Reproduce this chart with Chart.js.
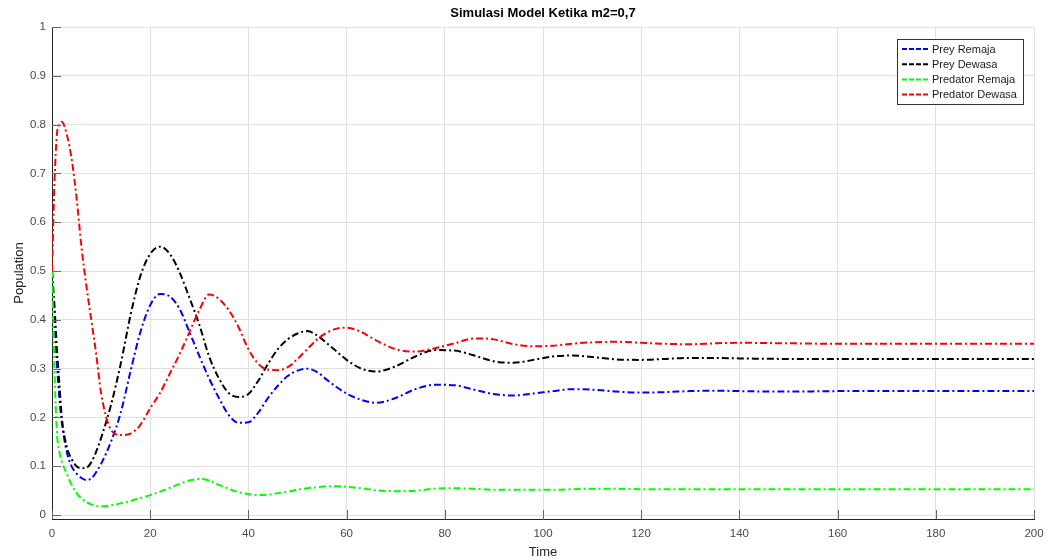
<!DOCTYPE html>
<html>
<head>
<meta charset="utf-8">
<script src="https://cdn.jsdelivr.net/npm/chart.js@4"></script>
<style>
  body { margin: 0; background: #fff; }
  canvas { display: block; }
</style>
</head>
<body>
<canvas id="simChart" width="1049" height="560"></canvas>
<script>
const time = [0, 0.5, 1, 1.5, 2, 3, 4, 5, 6, 7, 8, 9, 10, 12, 14, 16, 18, 20, 22, 24, 26, 28, 30, 32, 34, 36, 38, 40, 42, 44, 46, 48, 50, 52, 54, 56, 58, 60, 63, 66, 70, 74, 78, 82, 86, 90, 94, 98, 102, 106, 110, 115, 120, 125, 130, 135, 140, 150, 160, 170, 180, 190, 200];

const preyRemaja = [0.50, 0.40, 0.31, 0.24, 0.19, 0.13, 0.10, 0.085, 0.076, 0.072, 0.075, 0.088, 0.105, 0.15, 0.21, 0.295, 0.375, 0.43, 0.453, 0.448, 0.422, 0.375, 0.326, 0.28, 0.24, 0.205, 0.189, 0.19, 0.21, 0.24, 0.265, 0.285, 0.296, 0.30, 0.293, 0.277, 0.262, 0.249, 0.236, 0.230, 0.240, 0.258, 0.267, 0.266, 0.257, 0.248, 0.245, 0.249, 0.254, 0.258, 0.257, 0.253, 0.251, 0.252, 0.254, 0.255, 0.254, 0.253, 0.254, 0.254, 0.254, 0.254, 0.254];

const preyDewasa = [0.50, 0.43, 0.34, 0.27, 0.20, 0.14, 0.115, 0.10, 0.096, 0.097, 0.108, 0.13, 0.158, 0.225, 0.31, 0.41, 0.49, 0.535, 0.55, 0.535, 0.497, 0.445, 0.39, 0.325, 0.28, 0.25, 0.242, 0.248, 0.275, 0.31, 0.34, 0.36, 0.372, 0.377, 0.368, 0.352, 0.335, 0.318, 0.30, 0.294, 0.305, 0.325, 0.338, 0.337, 0.327, 0.315, 0.312, 0.318, 0.325, 0.327, 0.324, 0.319, 0.318, 0.320, 0.322, 0.322, 0.321, 0.320, 0.320, 0.320, 0.320, 0.320, 0.320];

const predatorRemaja = [0.50, 0.30, 0.17, 0.13, 0.11, 0.085, 0.062, 0.045, 0.034, 0.027, 0.022, 0.019, 0.018, 0.020, 0.024, 0.029, 0.035, 0.041, 0.048, 0.056, 0.064, 0.071, 0.074, 0.071, 0.062, 0.054, 0.047, 0.043, 0.041, 0.042, 0.045, 0.048, 0.052, 0.055, 0.057, 0.059, 0.059, 0.058, 0.055, 0.051, 0.049, 0.050, 0.054, 0.055, 0.054, 0.052, 0.052, 0.052, 0.052, 0.053, 0.054, 0.054, 0.053, 0.053, 0.053, 0.053, 0.053, 0.053, 0.053, 0.053, 0.053, 0.053, 0.053];

const predatorDewasa = [0.50, 0.68, 0.78, 0.80, 0.806, 0.78, 0.73, 0.65, 0.55, 0.47, 0.40, 0.33, 0.25, 0.175, 0.164, 0.167, 0.185, 0.219, 0.25, 0.29, 0.33, 0.375, 0.42, 0.452, 0.443, 0.42, 0.385, 0.34, 0.31, 0.298, 0.297, 0.303, 0.32, 0.34, 0.36, 0.374, 0.382, 0.384, 0.375, 0.358, 0.340, 0.335, 0.342, 0.352, 0.362, 0.360, 0.350, 0.346, 0.347, 0.351, 0.354, 0.355, 0.353, 0.351, 0.350, 0.352, 0.353, 0.352, 0.351, 0.351, 0.351, 0.351, 0.351];

const seriesNames = ['Prey Remaja', 'Prey Dewasa', 'Predator Remaja', 'Predator Dewasa'];
const seriesColors = ['#0000ff', '#000000', '#00ff00', '#ff0000'];
const xTicks = [0, 20, 40, 60, 80, 100, 120, 140, 160, 180, 200];
const yTicks = [0, 0.1, 0.2, 0.3, 0.4, 0.5, 0.6, 0.7, 0.8, 0.9, 1];
const yTickLabels = ['0', '0.1', '0.2', '0.3', '0.4', '0.5', '0.6', '0.7', '0.8', '0.9', '1'];

const allSeries = [preyRemaja, preyDewasa, predatorRemaja, predatorDewasa];
const dashStyle = [7, 3, 2, 3];
const axisColor = '#262626';
const labelFont = 'Liberation Sans, Arial, Helvetica, sans-serif';

function toPoints(values) {
  return values.map((v, i) => ({ x: time[i], y: v }));
}

// title, inner tick marks and the boxed legend, drawn the matlab way
const figureExtras = {
  id: 'figureExtras',
  afterDraw(chart) {
    const ctx = chart.ctx;
    const area = chart.chartArea;
    const xs = chart.scales.x;
    const ys = chart.scales.y;

    ctx.save();
    ctx.strokeStyle = '#666';
    ctx.lineWidth = 1;
    ctx.beginPath();
    xTicks.forEach(t => {
      const px = Math.round(xs.getPixelForValue(t)) + 0.5;
      ctx.moveTo(px, area.bottom);
      ctx.lineTo(px, area.bottom - 9);
    });
    yTicks.forEach(t => {
      const py = Math.round(ys.getPixelForValue(t)) + 0.5;
      ctx.moveTo(area.left, py);
      ctx.lineTo(area.left + 9, py);
    });
    ctx.stroke();

    ctx.fillStyle = '#000';
    ctx.font = 'bold 13px ' + labelFont;
    ctx.textAlign = 'center';
    ctx.textBaseline = 'middle';
    ctx.fillText('Simulasi Model Ketika m2=0,7', (area.left + area.right) / 2, 13);

    // legend box
    const bx = 897.5, by = 39.5, bw = 126, bh = 65;
    ctx.fillStyle = '#fff';
    ctx.fillRect(bx, by, bw, bh);
    ctx.strokeStyle = '#333';
    ctx.strokeRect(bx, by, bw, bh);
    ctx.font = '11px ' + labelFont;
    ctx.textAlign = 'left';
    seriesNames.forEach((name, i) => {
      const rowY = 49 + i * 15.2;
      ctx.strokeStyle = seriesColors[i];
      ctx.lineWidth = 2;
      ctx.setLineDash([5, 2]);
      ctx.beginPath();
      ctx.moveTo(902, rowY);
      ctx.lineTo(929, rowY);
      ctx.stroke();
      ctx.setLineDash([]);
      ctx.fillStyle = '#1a1a1a';
      ctx.fillText(name, 932, rowY + 0.5);
    });
    ctx.restore();
  }
};

const ctx = document.getElementById('simChart').getContext('2d');
new Chart(ctx, {
  type: 'line',
  data: {
    datasets: allSeries.map((vals, i) => ({
      label: seriesNames[i],
      data: toPoints(vals),
      borderColor: seriesColors[i],
      borderWidth: 2,
      borderDash: dashStyle,
      pointRadius: 0,
      fill: false,
      cubicInterpolationMode: 'monotone',
      order: 4 - i
    }))
  },
  options: {
    responsive: false,
    animation: false,
    layout: { padding: { top: 27, right: 15, left: 0, bottom: 0 } },
    plugins: {
      legend: { display: false },
      tooltip: { enabled: false }
    },
    scales: {
      x: {
        type: 'linear',
        min: 0,
        max: 200,
        afterBuildTicks: s => { s.ticks = xTicks.map(v => ({ value: v })); },
        afterFit: s => { s.height = 41; s.paddingLeft = 0; s.paddingRight = 0; },
        grid: { color: '#e0e0e0', drawTicks: false },
        border: { color: axisColor },
        ticks: {
          padding: 8,
          color: '#4a4a4a',
          font: { family: labelFont, size: 11.5 },
          maxRotation: 0
        },
        title: {
          display: true,
          text: 'Time',
          color: '#262626',
          font: { family: labelFont, size: 13 },
          padding: { top: 0, bottom: 0 }
        }
      },
      y: {
        type: 'linear',
        min: -0.008,
        max: 1,
        afterBuildTicks: s => { s.ticks = yTicks.map(v => ({ value: v })); },
        afterFit: s => { s.width = 52; s.paddingTop = 0; s.paddingBottom = 0; },
        grid: { color: '#e0e0e0', drawTicks: false },
        border: { color: axisColor },
        ticks: {
          padding: 6,
          color: '#4a4a4a',
          font: { family: labelFont, size: 11.5 },
          callback: (v, idx) => yTickLabels[idx]
        },
        title: {
          display: true,
          text: 'Population',
          color: '#262626',
          font: { family: labelFont, size: 13 },
          padding: { top: 12, bottom: 0 }
        }
      }
    }
  },
  plugins: [figureExtras]
});
</script>
</body>
</html>
